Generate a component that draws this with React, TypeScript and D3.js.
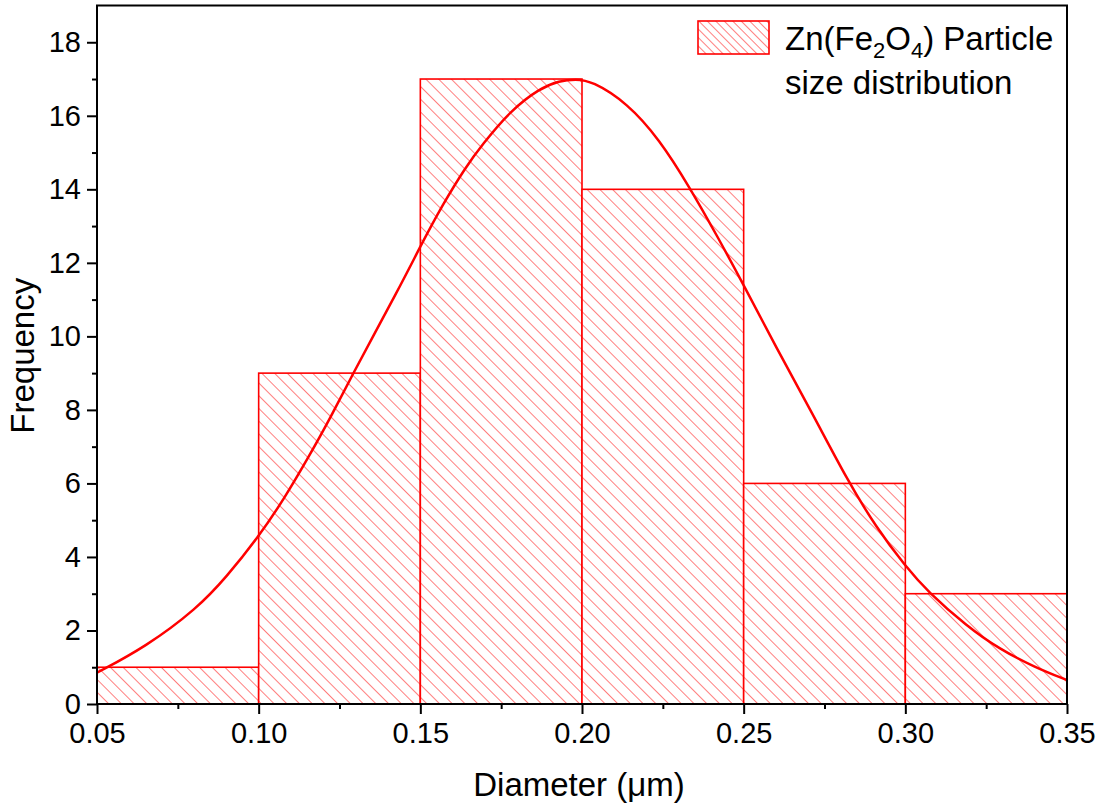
import { useEffect, useRef } from "react";
import * as d3 from "d3";

// histogram bins (edges) and counts
const binEdges = [0.05, 0.1, 0.15, 0.2, 0.25, 0.3, 0.35];
const counts = [1, 9, 17, 14, 6, 3];

// fitted curve
const fitX = [
  0.05, 0.065, 0.081, 0.09, 0.1, 0.108, 0.115, 0.122, 0.128, 0.144, 0.15, 0.157,
  0.164, 0.169, 0.178, 0.187, 0.193, 0.198, 0.203, 0.214, 0.224, 0.233, 0.242,
  0.25, 0.26, 0.271, 0.282, 0.291, 0.3, 0.307, 0.319, 0.329, 0.34, 0.35,
];
const fitY = [
  0.85, 1.55, 2.6, 3.45, 4.55, 5.6, 6.65, 7.75, 8.8, 11.4, 12.45, 13.6, 14.6, 15.2,
  16.15, 16.75, 16.95, 17.0, 16.95, 16.35, 15.35, 14.1, 12.7, 11.4, 9.7, 7.95, 6.1,
  4.8, 3.75, 3.05, 2.12, 1.5, 1.0, 0.65,
];

const xTicks = [0.05, 0.1, 0.15, 0.2, 0.25, 0.3, 0.35];
const yTicks = [0, 2, 4, 6, 8, 10, 12, 14, 16, 18];
const legendLabel = ["Zn(Fe", "2", "O", "4", ") Particle"];
const legendLabel2 = "size distribution";

const W = 1106;
const H = 805;
const MARGIN = { top: 5.5, right: 39, bottom: 101, left: 97 };
const RED = "#ff0000";
const FONT = "'Liberation Sans', Arial, sans-serif";

export default function App() {
  const xAxisRef = useRef<SVGGElement>(null);
  const yAxisRef = useRef<SVGGElement>(null);
  const boundsWidth = W - MARGIN.left - MARGIN.right;
  const boundsHeight = H - MARGIN.top - MARGIN.bottom;

  const xScale = d3.scaleLinear().domain([0.05, 0.35]).range([0, boundsWidth]);
  const yScale = d3.scaleLinear().domain([0, 19]).range([boundsHeight, 0]);

  useEffect(() => {
    const gx = d3.select(xAxisRef.current);
    gx.selectAll("*").remove();
    const minorX = d3.range(0.075, 0.35, 0.05);
    gx.append("g")
      .call(d3.axisBottom(xScale).tickValues(minorX).tickSize(5).tickFormat(() => ""))
      .call((g) => g.select(".domain").remove());
    gx.append("g")
      .call(d3.axisBottom(xScale).tickValues(xTicks).tickSize(10).tickPadding(8).tickFormat(d3.format(".2f")))
      .call((g) => g.select(".domain").remove());
    gx.selectAll("line").attr("stroke", "#000").attr("stroke-width", 2);
    gx.selectAll("text")
      .attr("font-family", FONT)
      .attr("font-size", 29)
      .attr("fill", "#000");

    const gy = d3.select(yAxisRef.current);
    gy.selectAll("*").remove();
    const minorY = d3.range(1, 19, 2);
    gy.append("g")
      .call(d3.axisLeft(yScale).tickValues(minorY).tickSize(5).tickFormat(() => ""))
      .call((g) => g.select(".domain").remove());
    gy.append("g")
      .call(d3.axisLeft(yScale).tickValues(yTicks).tickSize(10).tickPadding(6).tickFormat(d3.format("d")))
      .call((g) => g.select(".domain").remove());
    gy.selectAll("line").attr("stroke", "#000").attr("stroke-width", 2);
    gy.selectAll("text")
      .attr("font-family", FONT)
      .attr("font-size", 29)
      .attr("fill", "#000");
  }, []);

  const bars = counts.map((c, i) => (
    <rect
      key={i}
      x={xScale(binEdges[i])}
      y={yScale(c)}
      width={xScale(binEdges[i + 1]) - xScale(binEdges[i])}
      height={yScale(0) - yScale(c)}
      fill="url(#hatch)"
      stroke={RED}
      strokeWidth={1.6}
    />
  ));

  const line = d3
    .line<number>()
    .x((d) => xScale(fitX[d]))
    .y((d) => yScale(fitY[d]))
    .curve(d3.curveBasis);
  const curvePath = line(d3.range(fitX.length)) || "";

  return (
    <svg width={W} height={H} style={{ position: "absolute", left: 0, top: 0 }}>
      <defs>
        <pattern id="hatch" patternUnits="userSpaceOnUse" width={9} height={9} patternTransform="rotate(-45)">
          <rect width={9} height={9} fill="#fff" />
          <line x1={0} y1={0} x2={0} y2={9} stroke={RED} strokeWidth={1} />
        </pattern>
        <pattern id="hatchLegend" patternUnits="userSpaceOnUse" width={6} height={6} patternTransform="rotate(-45)">
          <rect width={6} height={6} fill="#fff" />
          <line x1={0} y1={0} x2={0} y2={6} stroke={RED} strokeWidth={1} />
        </pattern>
        <clipPath id="plotClip">
          <rect x={0} y={0} width={boundsWidth} height={boundsHeight} />
        </clipPath>
      </defs>
      <g transform={`translate(${MARGIN.left},${MARGIN.top})`}>
        {bars}
        <path d={curvePath} fill="none" stroke={RED} strokeWidth={2.5} clipPath="url(#plotClip)" />
        <rect x={0} y={0} width={boundsWidth} height={boundsHeight} fill="none" stroke="#000" strokeWidth={2} />
        <g ref={xAxisRef} transform={`translate(0,${boundsHeight})`} />
        <g ref={yAxisRef} />
        <text
          x={boundsWidth / 2 - 3}
          y={boundsHeight + 92}
          textAnchor="middle"
          fontFamily={FONT}
          fontSize={33}
        >
          Diameter (μm)
        </text>
        <text
          transform={`translate(-63,${boundsHeight / 2 + 1}) rotate(-90)`}
          textAnchor="middle"
          fontFamily={FONT}
          fontSize={33}
        >
          Frequency
        </text>
        {/* legend */}
        <rect x={601} y={15.5} width={71} height={33} fill="url(#hatchLegend)" stroke={RED} strokeWidth={1.6} />
        <text x={688} y={44} fontFamily={FONT} fontSize={33}>
          <tspan>{legendLabel[0]}</tspan>
          <tspan fontSize={22} dy={8}>{legendLabel[1]}</tspan>
          <tspan dy={-8}>{legendLabel[2]}</tspan>
          <tspan fontSize={22} dy={8}>{legendLabel[3]}</tspan>
          <tspan dy={-8}>{legendLabel[4]}</tspan>
        </text>
        <text x={688} y={88} fontFamily={FONT} fontSize={33}>
          {legendLabel2}
        </text>
      </g>
    </svg>
  );
}
